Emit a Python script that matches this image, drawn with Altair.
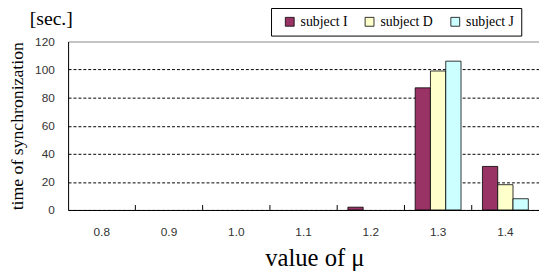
import altair as alt
import pandas as pd

mu = ["0.8", "0.9", "1.0", "1.1", "1.2", "1.3", "1.4"]
subjects = ["subject I", "subject D", "subject J"]
subject_I = [0, 0, 0, 0, 2, 87, 31]
subject_D = [0, 0, 0, 0, 0, 99, 18]
subject_J = [0, 0, 0, 0, 0, 106, 8]
colors = ["#993366", "#FFFFCC", "#CCFFFF"]
y_ticks = [0, 20, 40, 60, 80, 100, 120]
unit_label = ["[sec.]"]

rows = []
for s, vals in zip(subjects, [subject_I, subject_D, subject_J]):
    for m, v in zip(mu, vals):
        rows.append({"mu": m, "subject": s, "time": v})
df = pd.DataFrame(rows)
ticks_df = pd.DataFrame({"mu": mu[1:]})
unit_df = pd.DataFrame({"t": unit_label})

serif = "Liberation Serif"
sans = "Liberation Sans"

bars = alt.Chart(df).transform_filter("datum.time > 0").mark_bar(stroke="black", strokeWidth=0.8).encode(
    x=alt.X(
        "mu:N",
        sort=mu,
        scale=alt.Scale(domain=mu, paddingInner=0, paddingOuter=0),
        axis=alt.Axis(
            title="value of  μ",
            labelAngle=0,
            ticks=False,
            domainColor="black",
            labelFont=sans,
            labelFontSize=12,
            labelColor="#333333",
            labelPadding=17,
            titleFont=serif,
            titleFontSize=25,
            titleFontWeight="normal",
            titleColor="black",
            titleX=250,
            titleY=56,
            titleAlign="center",
            titleBaseline="alphabetic",
        ),
    ),
    xOffset=alt.XOffset(
        "subject:N", sort=subjects,
        scale=alt.Scale(domain=subjects, paddingOuter=0.7, paddingInner=0)
    ),
    y=alt.Y(
        "time:Q",
        scale=alt.Scale(domain=[0, 120], nice=False),
        axis=alt.Axis(
            title="time of synchronization",
            values=y_ticks,
            ticks=False,
            domainColor="black",
            grid=True,
            gridColor=alt.condition("datum.value == 120", alt.value("#999999"), alt.value("black")),
            gridDash=alt.condition("datum.value == 120", alt.value([]), alt.value([3, 2])),
            gridWidth=1,
            labelFont=sans,
            labelFontSize=12,
            labelColor="#333333",
            labelPadding=14,
            titleFont=serif,
            titleFontSize=18,
            titleFontWeight="normal",
            titleColor="black",
            titlePadding=8,
        ),
    ),
    color=alt.Color(
        "subject:N",
        sort=subjects,
        scale=alt.Scale(domain=subjects, range=colors),
        legend=alt.Legend(
            title=None,
            orient="none",
            legendX=206,
            legendY=-34,
            direction="horizontal",
            columns=3,
            strokeColor="black",
            fillColor="white",
            padding=7,
            symbolType="square",
            symbolSize=81,
            symbolStrokeColor="black",
            symbolStrokeWidth=0.8,
            symbolOffset=5,
            labelFont=serif,
            labelFontSize=14,
            labelColor="black",
            labelOffset=4,
            columnPadding=10,
        ),
    ),
)

ticks = alt.Chart(ticks_df).mark_rule(color="black", strokeWidth=1).encode(
    x=alt.X("mu:N", sort=mu, bandPosition=0),
    y=alt.value(166),
    y2=alt.value(171),
)

unit = alt.Chart(unit_df).mark_text(
    font=serif, fontSize=20, color="black", align="left", baseline="alphabetic"
).encode(
    text="t:N",
    x=alt.value(-39),
    y=alt.value(-17),
)

chart = (
    alt.layer(bars, ticks, unit)
    .properties(
        width=478,
        height=171,
        autosize=alt.AutoSizeParams(type="none"),
        padding={"left": 61, "top": 32, "right": 0, "bottom": 64},
    )
    .configure_view(stroke="#999999", strokeWidth=1)
    .configure(background="white")
)

chart.save("out.html", embed_options={"renderer": "svg", "actions": False})
